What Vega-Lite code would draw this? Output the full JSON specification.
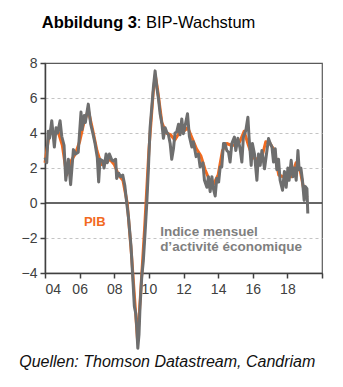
{
  "$schema": "https://vega.github.io/schema/vega-lite/v6.json",
  "autosize": "none",
  "width": 277,
  "height": 210,
  "padding": {"left": 45, "top": 63, "right": 21, "bottom": 114},
  "background": "white",
  "config": {
    "font": "Liberation Sans",
    "view": {"stroke": "#5a5a5a", "strokeWidth": 1.2},
    "axis": {"labelFont": "Liberation Sans", "labelColor": "#404040", "labelFontSize": 14, "domainColor": "#404040", "domainWidth": 1.5, "tickColor": "#404040", "tickWidth": 1.5, "tickSize": 5, "title": null, "labelOverlap": false},
    "axisX": {"format": "d", "labelExpr": "datum.value >= 2020 ? '' : substring(datum.label, 2)", "grid": false, "labelPadding": 4},
    "axisY": {"grid": true, "gridColor": {"condition": {"test": "datum.value === 8 || datum.value === -4 || datum.value === 0", "value": "transparent"}, "value": "#c4c4c4"}, "gridDash": [3, 3], "gridWidth": 1, "labelPadding": 3}
  },
  "datasets": {
    "series": [
      {"s":"PIB","t":2004.00,"v":2.3},{"s":"PIB","t":2004.25,"v":4.0},{"s":"PIB","t":2004.5,"v":4.0},{"s":"PIB","t":2004.75,"v":4.1},
      {"s":"PIB","t":2005.0,"v":3.3},{"s":"PIB","t":2005.25,"v":1.6},{"s":"PIB","t":2005.5,"v":2.4},{"s":"PIB","t":2005.75,"v":2.8},
      {"s":"PIB","t":2006.0,"v":3.5},{"s":"PIB","t":2006.25,"v":4.6},{"s":"PIB","t":2006.5,"v":5.3},{"s":"PIB","t":2006.75,"v":4.2},
      {"s":"PIB","t":2007.0,"v":3.0},{"s":"PIB","t":2007.25,"v":2.2},{"s":"PIB","t":2007.5,"v":2.3},{"s":"PIB","t":2007.75,"v":2.5},
      {"s":"PIB","t":2008.0,"v":2.2},{"s":"PIB","t":2008.25,"v":1.6},{"s":"PIB","t":2008.5,"v":1.3},{"s":"PIB","t":2008.75,"v":0.0},
      {"s":"PIB","t":2009.0,"v":-3.0},{"s":"PIB","t":2009.25,"v":-6.5},{"s":"PIB","t":2009.35,"v":-7.9},{"s":"PIB","t":2009.5,"v":-5.5},
      {"s":"PIB","t":2009.75,"v":-1.5},{"s":"PIB","t":2010.0,"v":3.0},{"s":"PIB","t":2010.25,"v":6.3},{"s":"PIB","t":2010.37,"v":7.3},
      {"s":"PIB","t":2010.5,"v":6.5},{"s":"PIB","t":2010.75,"v":4.6},{"s":"PIB","t":2011.0,"v":4.0},{"s":"PIB","t":2011.25,"v":3.9},
      {"s":"PIB","t":2011.5,"v":3.6},{"s":"PIB","t":2011.75,"v":4.0},{"s":"PIB","t":2012.0,"v":4.1},{"s":"PIB","t":2012.25,"v":4.3},
      {"s":"PIB","t":2012.5,"v":3.7},{"s":"PIB","t":2012.75,"v":3.1},{"s":"PIB","t":2013.0,"v":2.7},{"s":"PIB","t":2013.25,"v":1.9},
      {"s":"PIB","t":2013.5,"v":1.3},{"s":"PIB","t":2013.75,"v":1.1},{"s":"PIB","t":2014.0,"v":1.6},{"s":"PIB","t":2014.25,"v":3.0},
      {"s":"PIB","t":2014.5,"v":3.4},{"s":"PIB","t":2014.75,"v":3.3},{"s":"PIB","t":2015.0,"v":3.3},{"s":"PIB","t":2015.25,"v":3.5},
      {"s":"PIB","t":2015.5,"v":4.1},{"s":"PIB","t":2015.75,"v":3.3},{"s":"PIB","t":2016.0,"v":2.6},{"s":"PIB","t":2016.25,"v":2.5},
      {"s":"PIB","t":2016.5,"v":2.5},{"s":"PIB","t":2016.75,"v":3.5},{"s":"PIB","t":2017.0,"v":3.4},{"s":"PIB","t":2017.25,"v":3.0},
      {"s":"PIB","t":2017.5,"v":1.6},{"s":"PIB","t":2017.75,"v":1.5},{"s":"PIB","t":2018.0,"v":1.6},{"s":"PIB","t":2018.25,"v":1.5},
      {"s":"PIB","t":2018.5,"v":2.3},{"s":"PIB","t":2018.75,"v":1.8},{"s":"PIB","t":2019.0,"v":0.5},{"s":"PIB","t":2019.15,"v":0.3},
      {"s":"IMA","t":2004.00,"v":2.6},{"s":"IMA","t":2004.10,"v":2.3},{"s":"IMA","t":2004.19,"v":4.1},{"s":"IMA","t":2004.26,"v":3.7},
      {"s":"IMA","t":2004.39,"v":4.7},{"s":"IMA","t":2004.54,"v":3.2},{"s":"IMA","t":2004.64,"v":4.3},{"s":"IMA","t":2004.73,"v":4.0},
      {"s":"IMA","t":2004.87,"v":4.7},{"s":"IMA","t":2004.97,"v":3.8},{"s":"IMA","t":2005.10,"v":3.3},{"s":"IMA","t":2005.20,"v":1.3},
      {"s":"IMA","t":2005.35,"v":2.5},{"s":"IMA","t":2005.48,"v":1.05},{"s":"IMA","t":2005.64,"v":3.05},{"s":"IMA","t":2005.77,"v":2.8},
      {"s":"IMA","t":2005.92,"v":2.9},{"s":"IMA","t":2006.08,"v":5.2},{"s":"IMA","t":2006.14,"v":4.2},{"s":"IMA","t":2006.27,"v":5.0},
      {"s":"IMA","t":2006.33,"v":4.6},{"s":"IMA","t":2006.50,"v":5.65},{"s":"IMA","t":2006.64,"v":4.5},{"s":"IMA","t":2006.76,"v":4.0},
      {"s":"IMA","t":2006.89,"v":3.4},{"s":"IMA","t":2007.02,"v":2.6},{"s":"IMA","t":2007.10,"v":1.2},{"s":"IMA","t":2007.18,"v":2.5},
      {"s":"IMA","t":2007.34,"v":2.4},{"s":"IMA","t":2007.41,"v":2.0},{"s":"IMA","t":2007.53,"v":2.8},{"s":"IMA","t":2007.60,"v":2.3},
      {"s":"IMA","t":2007.72,"v":2.8},{"s":"IMA","t":2007.86,"v":2.45},{"s":"IMA","t":2007.95,"v":2.4},{"s":"IMA","t":2008.08,"v":2.5},
      {"s":"IMA","t":2008.14,"v":1.4},{"s":"IMA","t":2008.26,"v":1.7},{"s":"IMA","t":2008.38,"v":1.5},{"s":"IMA","t":2008.49,"v":1.6},
      {"s":"IMA","t":2008.61,"v":1.0},{"s":"IMA","t":2008.72,"v":0.0},{"s":"IMA","t":2008.82,"v":-0.8},{"s":"IMA","t":2008.97,"v":-2.5},
      {"s":"IMA","t":2009.10,"v":-4.8},{"s":"IMA","t":2009.16,"v":-5.9},{"s":"IMA","t":2009.24,"v":-6.3},{"s":"IMA","t":2009.30,"v":-7.1},
      {"s":"IMA","t":2009.36,"v":-8.3},{"s":"IMA","t":2009.43,"v":-7.5},{"s":"IMA","t":2009.49,"v":-5.9},{"s":"IMA","t":2009.59,"v":-4.2},
      {"s":"IMA","t":2009.68,"v":-3.3},{"s":"IMA","t":2009.78,"v":-1.7},{"s":"IMA","t":2009.88,"v":0.0},{"s":"IMA","t":2009.97,"v":1.9},
      {"s":"IMA","t":2010.07,"v":4.3},{"s":"IMA","t":2010.17,"v":5.5},{"s":"IMA","t":2010.26,"v":6.6},{"s":"IMA","t":2010.36,"v":7.55},
      {"s":"IMA","t":2010.46,"v":6.6},{"s":"IMA","t":2010.55,"v":6.0},{"s":"IMA","t":2010.65,"v":5.1},{"s":"IMA","t":2010.75,"v":4.55},
      {"s":"IMA","t":2010.84,"v":3.7},{"s":"IMA","t":2010.94,"v":4.3},{"s":"IMA","t":2011.03,"v":4.06},{"s":"IMA","t":2011.13,"v":3.9},
      {"s":"IMA","t":2011.23,"v":3.4},{"s":"IMA","t":2011.32,"v":2.5},{"s":"IMA","t":2011.42,"v":3.1},{"s":"IMA","t":2011.51,"v":4.0},
      {"s":"IMA","t":2011.61,"v":4.06},{"s":"IMA","t":2011.71,"v":4.5},{"s":"IMA","t":2011.80,"v":3.9},{"s":"IMA","t":2011.90,"v":4.8},
      {"s":"IMA","t":2011.99,"v":3.96},{"s":"IMA","t":2012.09,"v":4.4},{"s":"IMA","t":2012.23,"v":5.1},{"s":"IMA","t":2012.34,"v":3.8},
      {"s":"IMA","t":2012.48,"v":3.2},{"s":"IMA","t":2012.57,"v":3.5},{"s":"IMA","t":2012.73,"v":2.65},{"s":"IMA","t":2012.86,"v":2.8},
      {"s":"IMA","t":2012.96,"v":2.06},{"s":"IMA","t":2013.12,"v":2.3},{"s":"IMA","t":2013.21,"v":1.3},{"s":"IMA","t":2013.35,"v":0.9},
      {"s":"IMA","t":2013.44,"v":1.5},{"s":"IMA","t":2013.54,"v":0.65},{"s":"IMA","t":2013.64,"v":1.5},{"s":"IMA","t":2013.73,"v":0.8},
      {"s":"IMA","t":2013.83,"v":0.4},{"s":"IMA","t":2013.92,"v":1.4},{"s":"IMA","t":2014.03,"v":1.2},{"s":"IMA","t":2014.12,"v":2.06},
      {"s":"IMA","t":2014.21,"v":2.06},{"s":"IMA","t":2014.31,"v":3.4},{"s":"IMA","t":2014.40,"v":3.4},{"s":"IMA","t":2014.50,"v":3.0},
      {"s":"IMA","t":2014.60,"v":2.9},{"s":"IMA","t":2014.69,"v":2.34},{"s":"IMA","t":2014.79,"v":3.4},{"s":"IMA","t":2014.94,"v":3.77},
      {"s":"IMA","t":2015.02,"v":3.0},{"s":"IMA","t":2015.14,"v":3.7},{"s":"IMA","t":2015.27,"v":3.1},{"s":"IMA","t":2015.37,"v":2.34},
      {"s":"IMA","t":2015.46,"v":3.77},{"s":"IMA","t":2015.60,"v":4.15},{"s":"IMA","t":2015.72,"v":4.9},{"s":"IMA","t":2015.79,"v":3.7},
      {"s":"IMA","t":2015.91,"v":2.15},{"s":"IMA","t":2015.98,"v":3.4},{"s":"IMA","t":2016.10,"v":2.8},{"s":"IMA","t":2016.24,"v":1.3},
      {"s":"IMA","t":2016.33,"v":2.8},{"s":"IMA","t":2016.43,"v":2.15},{"s":"IMA","t":2016.53,"v":3.0},{"s":"IMA","t":2016.68,"v":1.96},
      {"s":"IMA","t":2016.82,"v":3.0},{"s":"IMA","t":2016.91,"v":3.68},{"s":"IMA","t":2017.01,"v":3.4},{"s":"IMA","t":2017.11,"v":3.2},
      {"s":"IMA","t":2017.20,"v":2.34},{"s":"IMA","t":2017.30,"v":3.1},{"s":"IMA","t":2017.39,"v":1.9},{"s":"IMA","t":2017.49,"v":2.5},
      {"s":"IMA","t":2017.58,"v":1.3},{"s":"IMA","t":2017.72,"v":0.73},{"s":"IMA","t":2017.83,"v":1.8},{"s":"IMA","t":2017.93,"v":0.9},
      {"s":"IMA","t":2018.03,"v":2.0},{"s":"IMA","t":2018.10,"v":1.3},{"s":"IMA","t":2018.22,"v":2.44},{"s":"IMA","t":2018.32,"v":1.5},
      {"s":"IMA","t":2018.41,"v":2.0},{"s":"IMA","t":2018.51,"v":1.3},{"s":"IMA","t":2018.61,"v":3.0},{"s":"IMA","t":2018.68,"v":1.9},
      {"s":"IMA","t":2018.78,"v":2.0},{"s":"IMA","t":2018.87,"v":1.3},{"s":"IMA","t":2018.97,"v":0.15},{"s":"IMA","t":2019.03,"v":0.95},
      {"s":"IMA","t":2019.13,"v":0.82},{"s":"IMA","t":2019.18,"v":-0.6}
    ]
  },
  "layer": [
    {
      "data": {"values": [{"z": 0}]},
      "mark": {"type": "rule", "color": "#333333", "strokeWidth": 1.5},
      "encoding": {
        "y": {"field": "z", "type": "quantitative", "scale": {"domain": [-4, 8], "nice": false, "zero": false}}
      }
    },
    {
      "data": {"name": "series"},
      "transform": [{"filter": "datum.s === 'PIB'"}],
      "mark": {"type": "line", "color": "#f26a1f", "strokeWidth": 3, "strokeJoin": "round"},
      "encoding": {
        "x": {"field": "t", "type": "quantitative", "scale": {"domain": [2004, 2020], "nice": false, "zero": false}},
        "y": {"field": "v", "type": "quantitative"}
      }
    },
    {
      "data": {"name": "series"},
      "transform": [{"filter": "datum.s === 'IMA'"}],
      "mark": {"type": "line", "color": "#6e6e6e", "strokeWidth": 3, "strokeJoin": "round"},
      "encoding": {
        "x": {"field": "t", "type": "quantitative"},
        "y": {"field": "v", "type": "quantitative"}
      }
    },
    {
      "data": {"values": [{"label": "PIB"}]},
      "mark": {"type": "text", "align": "left", "baseline": "middle", "font": "Liberation Sans", "fontWeight": "bold", "fontSize": 13, "color": "#f26a1f"},
      "encoding": {"x": {"datum": 2006.25, "type": "quantitative"}, "y": {"datum": -1.09, "type": "quantitative"}, "text": {"field": "label"}}
    },
    {
      "data": {"values": [{"label": "Indice mensuel"}]},
      "mark": {"type": "text", "align": "left", "baseline": "middle", "font": "Liberation Sans", "fontWeight": "bold", "fontSize": 13.5, "color": "#7f7f7f"},
      "encoding": {"x": {"datum": 2010.65, "type": "quantitative"}, "y": {"datum": -1.66, "type": "quantitative"}, "text": {"field": "label"}}
    },
    {
      "data": {"values": [{"label": "d’activité économique"}]},
      "mark": {"type": "text", "align": "left", "baseline": "middle", "font": "Liberation Sans", "fontWeight": "bold", "fontSize": 13.5, "color": "#7f7f7f"},
      "encoding": {"x": {"datum": 2010.65, "type": "quantitative"}, "y": {"datum": -2.51, "type": "quantitative"}, "text": {"field": "label"}}
    },
    {
      "data": {"values": [{"label": "Abbildung 3"}]},
      "mark": {"type": "text", "align": "left", "baseline": "alphabetic", "font": "Liberation Sans", "fontWeight": "bold", "fontSize": 16.5, "color": "#000000"},
      "encoding": {"x": {"datum": 2003.81, "type": "quantitative"}, "y": {"datum": 9.98, "type": "quantitative"}, "text": {"field": "label"}}
    },
    {
      "data": {"values": [{"label": ": BIP-Wachstum"}]},
      "mark": {"type": "text", "align": "left", "baseline": "alphabetic", "font": "Liberation Sans", "fontSize": 16.5, "color": "#000000"},
      "encoding": {"x": {"datum": 2009.3, "type": "quantitative"}, "y": {"datum": 9.98, "type": "quantitative"}, "text": {"field": "label"}}
    },
    {
      "data": {"values": [{"label": "Quellen: Thomson Datastream, Candriam"}]},
      "mark": {"type": "text", "align": "left", "baseline": "alphabetic", "font": "Liberation Sans", "fontStyle": "italic", "fontSize": 16, "color": "#111111"},
      "encoding": {"x": {"datum": 2002.51, "type": "quantitative"}, "y": {"datum": -9.37, "type": "quantitative"}, "text": {"field": "label"}}
    }
  ]
}
